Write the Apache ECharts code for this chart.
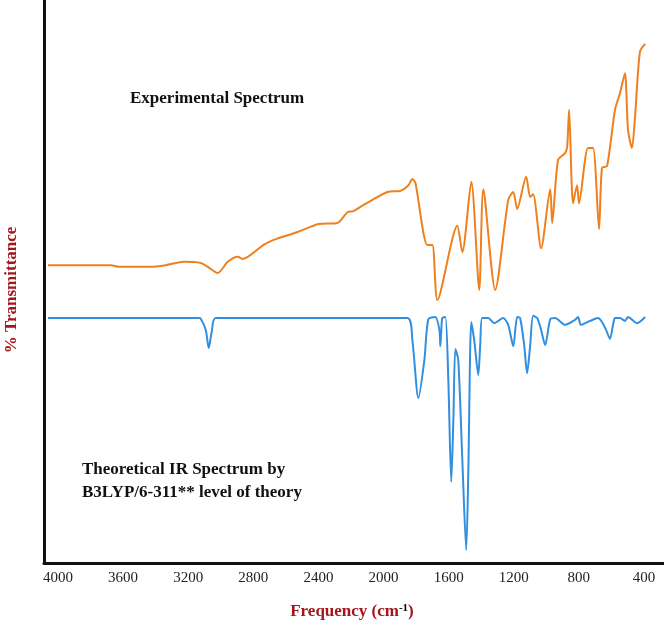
<!DOCTYPE html>
<html>
<head>
<meta charset="utf-8">
<script src="https://cdn.jsdelivr.net/npm/echarts@6/dist/echarts.min.js"></script>
<style>html,body{margin:0;padding:0;background:#fff}#c{width:664px;height:629px}</style>
</head>
<body>
<div id="c"></div>
<script>
// Wavenumber (cm-1) for each point of the experimental spectrum
const expWavenumber = [4061,3675,3626,3430,3338,3227,3123,3080,3019,2957,2896,2865,2737,2675,2528,2399,2283,2222,2185,2123,1976,1896,1847,1823,1804,1731,1700,1669,1547,1516,1461,1412,1387,1314,1234,1203,1179,1124,1099,1081,1032,976,964,928,885,872,860,836,811,799,744,713,676,658,627,578,547,517,498,474,455,425,393];
// Relative % transmittance of the experimental spectrum
const expTransmittance = [52.9,52.9,52.6,52.6,52.9,53.5,53.3,52.6,51.5,53.5,54.4,54.0,56.5,57.4,58.8,60.2,60.4,62.3,62.5,63.6,65.9,66.1,67.1,68.2,67.5,56.5,56.5,46.7,59.9,55.2,67.7,48.5,66.4,48.5,64.5,65.9,62.9,68.6,65.0,65.5,55.9,66.4,60.4,71.6,72.8,73.9,80.5,63.9,67.1,63.9,73.7,73.7,59.3,70.2,70.5,80.5,83.5,87.0,76.9,73.7,79.2,90.8,92.2];
// Wavenumber (cm-1) for each point of the theoretical spectrum
const theoWavenumber = [4061,3135,3123,3092,3074,3056,3031,1854,1823,1786,1749,1725,1682,1657,1651,1645,1639,1620,1602,1584,1571,1559,1541,1516,1492,1479,1461,1443,1418,1406,1394,1357,1320,1265,1234,1203,1179,1161,1136,1118,1099,1081,1056,1032,1007,976,946,885,823,805,787,731,682,658,633,609,590,578,547,517,498,443,393];
// Relative % transmittance of the theoretical spectrum
const theoTransmittance = [43.5,43.5,43.4,41.4,38.2,41.0,43.5,43.5,39.6,29.3,36.1,43.3,43.7,41.4,38.5,41.4,43.5,43.7,32.5,14.4,25.4,38.0,36.1,18.3,2.3,16.5,42.8,39.6,33.4,38.7,43.5,43.5,42.6,43.5,42.3,38.5,43.7,43.5,38.7,33.7,38.7,43.9,43.5,41.4,38.7,43.3,43.5,42.3,43.2,43.7,42.3,43.0,43.5,42.8,41.4,39.8,42.3,43.5,43.5,43.0,43.7,42.6,43.7];
// Tick labels of the frequency axis
const freqTicks = [4000,3600,3200,2800,2400,2000,1600,1200,800,400];

const zip = (a,b) => a.map((v,i)=>[v,b[i]]);
const serif = '"Liberation Serif","DejaVu Serif",serif';
const darkRed = '#a3161b';

const chart = echarts.init(document.getElementById('c'), null, {renderer:'canvas'});
chart.setOption({
  animation:false,
  backgroundColor:'#fff',
  grid:{left:44, right:0, top:0, bottom:66},
  xAxis:{
    type:'value', inverse:true, min:277, max:4086,
    axisLine:{show:true, onZero:false, lineStyle:{color:'#111', width:3}},
    axisTick:{show:false},
    splitLine:{show:false},
    axisLabel:{customValues:freqTicks, formatter:(v)=>String(v), color:'#222', fontFamily:serif, fontSize:15, margin:8}
  },
  yAxis:{
    type:'value', min:0, max:100,
    axisLine:{show:true, lineStyle:{color:'#111', width:3}},
    axisTick:{show:false}, axisLabel:{show:false}, splitLine:{show:false}
  },
  series:[
    {type:'line', data:zip(expWavenumber, expTransmittance), showSymbol:false, smooth:0.25,
     lineStyle:{color:'#ef801d', width:2}},
    {type:'line', data:zip(theoWavenumber, theoTransmittance), showSymbol:false, smooth:0.25,
     lineStyle:{color:'#318fe0', width:2}}
  ],
  graphic:[
    {type:'text', left:130, top:90, style:{text:'Experimental Spectrum', font:'bold 17px '+serif, fill:'#111'}},
    {type:'text', left:82, top:461, style:{text:'Theoretical IR Spectrum by', font:'bold 17px '+serif, fill:'#111'}},
    {type:'text', left:82, top:484, style:{text:'B3LYP/6-311** level of theory', font:'bold 17px '+serif, fill:'#111'}},
    {type:'text', x:12, y:290, rotation:Math.PI/2,
     style:{text:'% Transmittance', font:'bold 17px '+serif, fill:darkRed, align:'center', verticalAlign:'middle'}},
    {type:'text', x:352, y:612,
     style:{text:'{a|Frequency (cm}{s|-1}{a|)}', align:'center', verticalAlign:'middle',
       rich:{a:{font:'bold 17px '+serif, fill:darkRed, color:darkRed}, s:{font:'bold 11px '+serif, color:darkRed, verticalAlign:'top', padding:[0,0,8,0]}}}}
  ]
});
</script>
</body>
</html>
